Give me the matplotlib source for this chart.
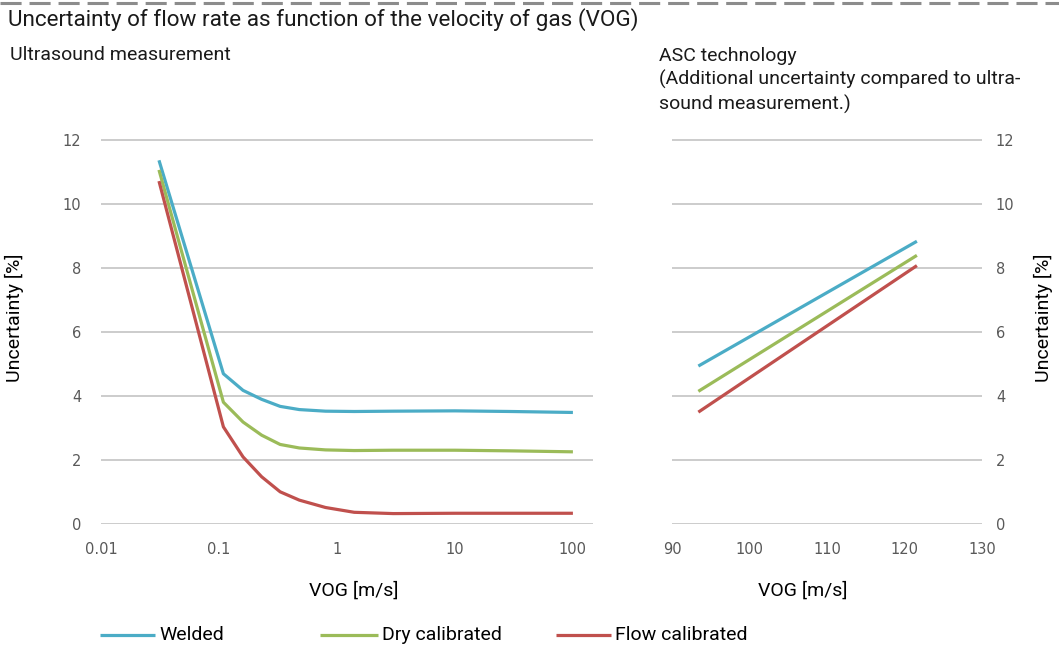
import matplotlib
matplotlib.use("Agg")
import matplotlib.pyplot as plt
from matplotlib.lines import Line2D

# ---------------- data ----------------
series_names = ["Welded", "Dry calibrated", "Flow calibrated"]
series_colors = ["#4BACC6", "#9BBB59", "#C0504D"]

vog_ultrasound = [0.031, 0.109, 0.16, 0.23, 0.33, 0.48, 0.8, 1.4, 3, 10, 30, 100]
welded_us = [11.35, 4.68, 4.16, 3.88, 3.66, 3.56, 3.51, 3.50, 3.51, 3.52, 3.50, 3.47]
dry_us = [11.05, 3.79, 3.17, 2.76, 2.47, 2.36, 2.30, 2.28, 2.29, 2.29, 2.27, 2.24]
flow_us = [10.70, 3.02, 2.08, 1.46, 0.99, 0.73, 0.50, 0.35, 0.31, 0.32, 0.32, 0.32]

vog_asc = [93.4, 121.6]
welded_asc = [4.92, 8.82]
dry_asc = [4.13, 8.38]
flow_asc = [3.48, 8.06]

left_xticks = [0.01, 0.1, 1, 10, 100]
left_xticklabels = ["0.01", "0.1", "1", "10", "100"]
right_xticks = [90, 100, 110, 120, 130]
yticks = [0, 2, 4, 6, 8, 10, 12]

title = "Uncertainty of flow rate as function of the velocity of gas (VOG)"
left_subtitle = "Ultrasound measurement"
right_subtitle = "ASC technology\n(Additional uncertainty compared to ultra-\nsound measurement.)"
xlabel = "VOG [m/s]"
ylabel = "Uncertainty [%]"

# ---------------- style ----------------
W, H = 1059, 650
TXT = ["Roboto", "DejaVu Sans"]
TICK = "#595959"
GRID = "#C8C8C8"
LW = 2.3
FS = 14

fig = plt.figure(figsize=(W / 100, H / 100), dpi=100)

def px(x0, y0, x1, y1):
    return [x0 / W, 1 - y1 / H, (x1 - x0) / W, (y1 - y0) / H]

axL = fig.add_axes(px(101, 139.5, 593, 523.5))
axR = fig.add_axes(px(672, 139.5, 982, 523.5))

for ax in (axL, axR):
    for s in ax.spines.values():
        s.set_visible(False)
    ax.set_ylim(0, 12)
    ax.set_yticks(yticks)
    ax.grid(axis="y", color=GRID, linewidth=1.3)
    ax.grid(axis="x", visible=False)
    ax.set_axisbelow(True)
    ax.tick_params(length=0, labelsize=10.5, labelcolor=TICK)

# left
axL.set_xscale("log")
axL.set_xlim(0.01, 148)
axL.set_xticks(left_xticks)
axL.set_xticklabels(left_xticklabels)
axL.minorticks_off()
axL.tick_params(axis="y", pad=14)
axL.tick_params(axis="x", pad=13)
for y, c, n in zip([welded_us, dry_us, flow_us], series_colors, series_names):
    axL.plot(vog_ultrasound, y, color=c, lw=LW, label=n, solid_capstyle="butt",
             solid_joinstyle="round", clip_on=False)

# right
axR.set_xlim(90, 130)
axR.set_xticks(right_xticks)
axR.yaxis.tick_right()
axR.tick_params(axis="y", pad=10)
axR.tick_params(axis="x", pad=13)
for y, c in zip([welded_asc, dry_asc, flow_asc], series_colors):
    axR.plot(vog_asc, y, color=c, lw=LW, solid_capstyle="butt", clip_on=False)

# texts
fig.add_artist(Line2D([0, 1], [1 - 3 / H, 1 - 3 / H], color="#8C8C8C", lw=2.2,
                      linestyle=(0, (6.9, 2.6))))
fig.text(8 / W, 1 - 20 / H, title, fontsize=16.2, family=TXT, va="center", color="#1a1a1a")
fig.text(10 / W, 1 - 55 / H, left_subtitle, fontsize=FS, family=TXT, va="center", color="#1a1a1a")
fig.text(659 / W, 1 - 47 / H, right_subtitle, fontsize=FS, family=TXT, va="top",
         linespacing=1.34, color="#1a1a1a")
fig.text(354 / W, 1 - 591 / H, xlabel, fontsize=FS, family=TXT, ha="center", va="center")
fig.text(803 / W, 1 - 591 / H, xlabel, fontsize=FS, family=TXT, ha="center", va="center")
fig.text(14 / W, 1 - 318 / H, ylabel, fontsize=FS, family=TXT, ha="center", va="center", rotation=90)
fig.text(1043 / W, 1 - 318 / H, ylabel, fontsize=FS, family=TXT, ha="center", va="center", rotation=90)

# legend entries (manual placement)
leg_x = [(100, 155), (320, 378), (556, 611)]
leg_y = 1 - 635 / H
for (x0, x1), c, n in zip(leg_x, series_colors, series_names):
    fig.add_artist(Line2D([x0 / W, x1 / W], [leg_y, leg_y], color=c, lw=LW,
                          solid_capstyle="butt"))
    fig.text((x1 + 4) / W, leg_y, n, fontsize=FS, family=TXT, va="center")

fig.savefig("out.png", dpi=100)
